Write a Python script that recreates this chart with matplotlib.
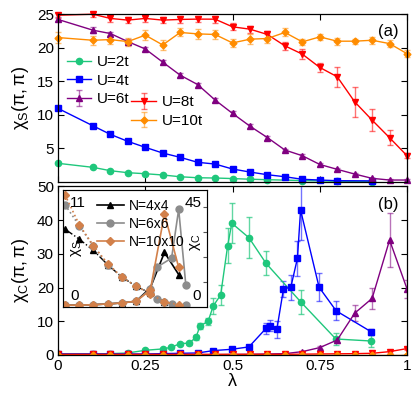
import matplotlib
matplotlib.use("Agg")
import matplotlib.pyplot as plt
from matplotlib.colors import to_rgba

plt.rcParams['font.family'] = ['Liberation Sans', 'DejaVu Sans']
plt.rcParams['mathtext.fontset'] = 'custom'
plt.rcParams['mathtext.rm'] = 'Liberation Sans'
plt.rcParams['mathtext.it'] = 'Liberation Sans'
plt.rcParams['mathtext.default'] = 'regular'

# ---- panel (a): chi_s(pi,pi) ----
lam = [0, 0.1, 0.15, 0.2, 0.25, 0.3, 0.35, 0.4, 0.45, 0.5, 0.55, 0.6, 0.65, 0.7, 0.75, 0.8, 0.85, 0.9, 0.95, 1.0]

lam_a2 = [0, 0.1, 0.15, 0.2, 0.25, 0.3, 0.35, 0.4, 0.45, 0.5, 0.55, 0.6, 0.7, 0.8, 0.9]
s_u2 = [2.77, 2.17, 1.67, 1.37, 1.22, 1.03, 0.77, 0.62, 0.58, 0.5, 0.4, 0.33, 0.2, 0.1, 0.06]

lam_a4 = [0, 0.1, 0.15, 0.2, 0.25, 0.3, 0.35, 0.4, 0.45, 0.5, 0.55, 0.6, 0.65, 0.7, 0.75, 0.8, 0.9]
s_u4 = [10.95, 8.36, 7.08, 6.04, 5.15, 4.30, 3.66, 2.92, 2.66, 1.92, 1.47, 1.07, 0.77, 0.39, 0.28, 0.18, 0.15]

s_u6 = [24.2, 22.6, 22.1, 20.9, 19.8, 17.84, 15.9, 14.5, 12.2, 10.2, 8.3, 6.6, 4.75, 3.9, 2.6, 1.87, 1.17, 0.53, 0.28, 0.28]
e_u6 = [0.3, 0.4, 0.3, 0.4, 0.3, 0.3, 0.3, 0.3, 0.3, 0.3, 0.3, 0.3, 0.2, 0.2, 0.2, 0.2, 0.2, 0.1, 0.1, 0.1]

s_u8 = [24.83, 24.98, 24.35, 24.1, 24.35, 24.1, 24.2, 24.25, 24.24, 23.1, 22.75, 21.96, 20.27, 19.03, 17.05, 15.66, 11.93, 9.2, 6.58, 3.9]
e_u8 = [0.4, 0.4, 0.5, 0.5, 0.5, 0.5, 0.5, 0.5, 0.5, 0.5, 0.5, 0.5, 0.55, 0.75, 0.7, 1.5, 2.2, 1.6, 1.1, 0.4]

s_u10 = [21.5, 21.1, 21.2, 20.9, 21.86, 20.4, 22.26, 22.05, 21.96, 20.7, 21.26, 21.36, 22.26, 20.86, 21.6, 20.96, 20.96, 21.1, 20.6, 19.1]
e_u10 = [0.8, 0.7, 0.7, 0.6, 0.7, 0.7, 0.6, 0.7, 0.7, 0.6, 0.7, 0.6, 0.6, 0.5, 0.5, 0.5, 0.4, 0.5, 0.5, 0.5]

# ---- panel (b): chi_c(pi,pi) ----
lam_g = [0, 0.1, 0.15, 0.2, 0.25, 0.3, 0.325, 0.35, 0.375, 0.395, 0.407, 0.43, 0.445, 0.466, 0.486, 0.498, 0.547, 0.596, 0.695, 0.796, 0.897]
c_u2 = [0.3, 0.3, 0.4, 0.6, 1.4, 1.8, 2.3, 3.4, 3.5, 5.2, 8.6, 10.0, 14.6, 17.8, 32.4, 39.1, 34.8, 27.2, 15.8, 4.75, 4.15]
ec_u2 = [0.1, 0.1, 0.1, 0.1, 0.2, 0.2, 0.3, 0.3, 0.4, 0.8, 1.0, 1.1, 2.4, 3.0, 5.2, 5.9, 6.0, 3.6, 3.6, 1.7, 1.7]

lam_b = [0, 0.1, 0.15, 0.2, 0.25, 0.3, 0.35, 0.4, 0.445, 0.498, 0.547, 0.596, 0.607, 0.627, 0.646, 0.667, 0.686, 0.695, 0.748, 0.797, 0.897]
c_u4 = [0.3, 0.3, 0.3, 0.3, 0.3, 0.4, 0.5, 0.6, 1.3, 1.7, 2.4, 7.9, 8.7, 7.6, 19.6, 20.1, 28.7, 43.0, 20.1, 13.1, 6.9]
ec_u4 = [0.1, 0.1, 0.1, 0.1, 0.1, 0.1, 0.1, 0.2, 0.3, 0.3, 0.4, 1.7, 1.7, 2.5, 2.5, 3.7, 5.2, 9.0, 4.1, 2.8, 0.9]

c_u6 = [0.1, 0.1, 0.1, 0.1, 0.1, 0.1, 0.1, 0.1, 0.1, 0.15, 0.2, 0.3, 0.4, 1.0, 2.2, 4.45, 12.4, 16.8, 34.1, 19.6]
ec_u6 = [0.05, 0.05, 0.05, 0.05, 0.05, 0.05, 0.05, 0.05, 0.05, 0.05, 0.1, 0.1, 0.1, 0.2, 0.4, 1.0, 2.3, 3.2, 8.0, 2.7]

c_u8 = [0.2, 0.2, 0.2, 0.2, 0.2, 0.2, 0.2, 0.2, 0.2, 0.2, 0.2, 0.2, 0.2, 0.25, 0.3, 0.35, 0.4, 0.5, 1.0, 1.9]
ec_u8 = [0.05] * 17 + [0.2, 0.3, 0.4]

c_u10 = [0.12] * 20

# ---- inset ----
lam_in = [0, 0.1, 0.2, 0.3, 0.4, 0.5, 0.6, 0.7, 0.8]
lam_in6 = [0, 0.1, 0.2, 0.3, 0.4, 0.5, 0.6, 0.645, 0.7, 0.75, 0.85]
xs_4 = [7.31, 6.37, 5.31, 3.97, 2.81, 1.94, 1.31, 0.44, 0.16]
xs_6 = [9.6, 7.63, 5.69, 3.97, 2.81, 1.94, 1.31, 0.75, 0.44, 0.28, 0.16]
xs_10 = [10.53, 7.72, 5.75, 4.07, 2.81, 1.94, 1.25, 0.44, 0.22]

lam_c4 = [0, 0.1, 0.2, 0.3, 0.4, 0.5, 0.6, 0.7, 0.8]
xc_4 = [0.7, 0.7, 0.9, 1.2, 1.6, 2.3, 7.6, 21.9, 13.0]
lam_c6 = [0, 0.1, 0.2, 0.3, 0.4, 0.5, 0.6, 0.645, 0.75, 0.8, 0.85]
xc_6 = [0.7, 0.7, 0.9, 1.2, 1.6, 2.3, 7.1, 15.9, 19.6, 39.2, 9.0]
xc_10 = [0.7, 0.7, 0.9, 1.2, 1.6, 2.3, 6.7, 37.4, 15.9]

GREEN = '#1fc77c'
BLUE = '#0000ff'
PURPLE = '#800080'
RED = '#ff0000'
ORANGE = '#ff8c00'
BROWN = '#d2804a'
GRAY = '#8c8c8c'


def light(c, a=0.55):
    return to_rgba(c, a)


fig = plt.figure(figsize=(4.15, 3.94), dpi=100)
ax1 = fig.add_axes([0.1398, 0.5383, 0.841, 0.426])
ax2 = fig.add_axes([0.1398, 0.099, 0.841, 0.4277])

kw = dict(lw=1.0, capsize=2.5, elinewidth=1.0, capthick=1.0)

# panel (a)
ax1.plot(lam_a2, s_u2, '-o', color=GREEN, ms=4.5, lw=1.0, label='U=2t', clip_on=False)
ax1.plot(lam_a4, s_u4, '-s', color=BLUE, ms=5, lw=1.0, label='U=4t', clip_on=False)
ax1.errorbar(lam, s_u6, yerr=e_u6, fmt='-^', color=PURPLE, ecolor=light(PURPLE), ms=5, label='U=6t', clip_on=False, **kw)
ax1.errorbar(lam, s_u8, yerr=e_u8, fmt='-v', color=RED, ecolor=light(RED), ms=5, label='U=8t', clip_on=False, **kw)
ax1.errorbar(lam, s_u10, yerr=e_u10, fmt='-D', color=ORANGE, ecolor=light(ORANGE), ms=3.5, label='U=10t', clip_on=False, **kw)

ax1.set_xlim(0, 1)
ax1.set_ylim(0, 25)
ax1.set_yticks([5, 10, 15, 20, 25])
ax1.set_xticks([0, 0.25, 0.5, 0.75, 1])
ax1.set_xticklabels([])
ax1.set_ylabel(r'$\chi_{S}(\pi,\pi)$', fontsize=13, labelpad=4)
ax1.text(0.975, 0.94, '(a)', transform=ax1.transAxes, ha='right', va='top', fontsize=12)

hs, ls = ax1.get_legend_handles_labels()
leg1 = ax1.legend(hs[:3], ls[:3], loc='upper left', bbox_to_anchor=(0.025, 0.755), frameon=False,
                  fontsize=11, handlelength=1.6, handletextpad=0.4, labelspacing=0.3, borderpad=0, borderaxespad=0)
ax1.add_artist(leg1)
ax1.legend(hs[3:], ls[3:], loc='upper left', bbox_to_anchor=(0.21, 0.515), frameon=False,
           fontsize=11, handlelength=1.6, handletextpad=0.4, labelspacing=0.3, borderpad=0, borderaxespad=0)

# panel (b)
ax2.errorbar(lam_g, c_u2, yerr=ec_u2, fmt='-o', color=GREEN, ecolor=light(GREEN, 0.7), ms=4.5, **kw)
ax2.errorbar(lam_b, c_u4, yerr=ec_u4, fmt='-s', color=BLUE, ecolor=light(BLUE), ms=5, **kw)
ax2.errorbar(lam, c_u6, yerr=ec_u6, fmt='-^', color=PURPLE, ecolor=light(PURPLE), ms=5, **kw)
ax2.errorbar(lam, c_u8, yerr=ec_u8, fmt='-v', color=RED, ecolor=light(RED), ms=5, **kw)
ax2.errorbar(lam, c_u10, fmt='-D', color=ORANGE, ms=3.5, lw=1.0)

ax2.set_xlim(0, 1)
ax2.set_ylim(0, 50)
ax2.set_yticks([0, 10, 20, 30, 40, 50])
ax2.set_xticks([0, 0.25, 0.5, 0.75, 1])
ax2.set_xticklabels(['0', '0.25', '0.5', '0.75', '1'])
ax2.set_ylabel(r'$\chi_{C}(\pi,\pi)$', fontsize=13, labelpad=4)
ax2.set_xlabel('λ', fontsize=13, labelpad=0)
ax2.text(0.975, 0.94, '(b)', transform=ax2.transAxes, ha='right', va='top', fontsize=12)

for ax in (ax1, ax2):
    ax.tick_params(direction='in', top=True, right=True, labelsize=11, length=4, pad=3)
    for s in ax.spines.values():
        s.set_linewidth(0.9)

# inset
axi = fig.add_axes([0.152, 0.221, 0.347, 0.297])
axi.set_facecolor('white')
axi.plot(lam_in, xs_4, '-.^', color='black', ms=5, lw=1.0)
axi.plot(lam_in6, xs_6, ':o', color=GRAY, ms=5, lw=1.2)
axi.plot(lam_in, xs_10, ':D', color=BROWN, ms=4, lw=1.2)
axi.set_xlim(-0.014, 1.0)
axi.set_ylim(0, 11)
axi.set_xticks([])
axi.set_yticks([])
for s in axi.spines.values():
    s.set_linewidth(0.8)
    s.set_color('#555555')

axc = axi.twinx()
l4, = axc.plot(lam_c4, xc_4, '-^', color='black', ms=5, lw=1.2, label='N=4x4')
l6, = axc.plot(lam_c6, xc_6, '-o', color=GRAY, ms=5, lw=1.2, label='N=6x6')
l10, = axc.plot(lam_in, xc_10, '-D', color=BROWN, ms=4, lw=1.2, label='N=10x10')
axc.set_ylim(0, 47)
axc.set_yticks([10, 20, 30, 40])
axc.set_yticklabels([])
axc.tick_params(axis='y', direction='in', length=3, color='#555555')
axc.legend(handles=[l4, l6, l10], loc='upper left', bbox_to_anchor=(0.17, 1.0), frameon=False,
           fontsize=10, handlelength=2.0, handletextpad=0.3, labelspacing=0.3, borderpad=0.15)

axi.text(0.05, 0.95, '11', transform=axi.transAxes, ha='left', va='top', fontsize=11)
axi.text(0.05, 0.03, '0', transform=axi.transAxes, ha='left', va='bottom', fontsize=11)
axi.text(0.96, 0.95, '45', transform=axi.transAxes, ha='right', va='top', fontsize=11)
axi.text(0.96, 0.03, '0', transform=axi.transAxes, ha='right', va='bottom', fontsize=11)
axi.text(0.04, 0.5, r'$\chi_{S}$', transform=axi.transAxes, rotation=90, ha='left', va='center', fontsize=11)
axi.text(0.97, 0.55, r'$\chi_{C}$', transform=axi.transAxes, rotation=90, ha='right', va='center', fontsize=11)

fig.savefig('out.png', dpi=100)
